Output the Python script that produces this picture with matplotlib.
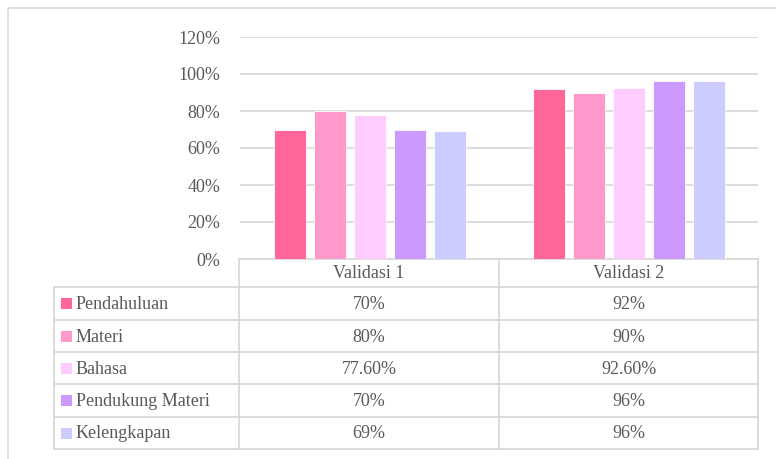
import matplotlib.pyplot as plt
from matplotlib.patches import Rectangle

categories = ['Validasi 1', 'Validasi 2']
series = ['Pendahuluan', 'Materi', 'Bahasa', 'Pendukung Materi', 'Kelengkapan']
values = [
    [0.70, 0.92],
    [0.80, 0.90],
    [0.776, 0.926],
    [0.70, 0.96],
    [0.69, 0.96],
]
labels = [
    ['70%', '92%'],
    ['80%', '90%'],
    ['77.60%', '92.60%'],
    ['70%', '96%'],
    ['69%', '96%'],
]
colors = ['#FF6699', '#FF99CC', '#FFCCFF', '#CC99FF', '#CCCCFF']
yticks = [0, 0.2, 0.4, 0.6, 0.8, 1.0, 1.2]

W, H = 776, 459
txt = '#595959'
grid = '#D9D9D9'
plt.rcParams['font.family'] = ['Liberation Serif', 'DejaVu Serif']
plt.rcParams['font.size'] = 13

fig = plt.figure(figsize=(W / 100, H / 100), dpi=100)
fig.set_facecolor('white')

# overlay in pixel coordinates for the border and data table
ov = fig.add_axes([0, 0, 1, 1])
ov.set_xlim(0, W)
ov.set_ylim(H, 0)
ov.axis('off')
ov.add_patch(Rectangle((8, 8), W + 10, H + 10, fill=False, ec=grid, lw=1.2))

# bar chart axes: x 240..758 px, y 37..259 px
x0, x1, ytop, ybot = 240, 758, 37, 259
ax = fig.add_axes([x0 / W, (H - ybot) / H, (x1 - x0) / W, (ybot - ytop) / H])
ax.set_xlim(-0.5, len(categories) - 0.5)
ax.set_ylim(0, 1.2)
bw = 32 / 259
step = 40 / 259
n = len(series)
for i, s in enumerate(series):
    xs = [c + (i - (n - 1) / 2) * step for c in range(len(categories))]
    ax.bar(xs, values[i], width=bw, color=colors[i], edgecolor='white',
           linewidth=0.6, zorder=3)
ax.set_yticks(yticks)
ax.set_yticklabels(['%d%%' % round(v * 100) for v in yticks], color=txt)
ax.tick_params(axis='y', length=0, pad=14)
ax.set_xticks([])
for sp in ax.spines.values():
    sp.set_visible(False)
ax.yaxis.grid(True, color=grid, linewidth=1.3, zorder=0)
ax.set_facecolor('none')

# data table
cols = [54, 239, 499, 758]
rows = [259, 287, 320, 352, 384, 417, 449]
lk = dict(color=grid, lw=1.3, solid_capstyle='projecting')
ov.plot([cols[1], cols[3]], [rows[0], rows[0]], **lk)
for y in rows[1:]:
    ov.plot([cols[0], cols[3]], [y, y], **lk)
for x in cols[1:]:
    ov.plot([x, x], [rows[0], rows[-1]], **lk)
ov.plot([cols[0], cols[0]], [rows[1], rows[-1]], **lk)

for j, c in enumerate(categories):
    ov.text((cols[j + 1] + cols[j + 2]) / 2, (rows[0] + rows[1]) / 2 + 1, c,
            ha='center', va='center', color=txt)
for i, s in enumerate(series):
    yc = (rows[i + 1] + rows[i + 2]) / 2
    ov.add_patch(Rectangle((61, yc - 5.5), 11, 11, color=colors[i], lw=0))
    ov.text(76, yc + 1, s, ha='left', va='center', color=txt)
    for j in range(len(categories)):
        ov.text((cols[j + 1] + cols[j + 2]) / 2, yc + 1, labels[i][j],
                ha='center', va='center', color=txt)

fig.savefig('out.png', dpi=100, facecolor='white')
